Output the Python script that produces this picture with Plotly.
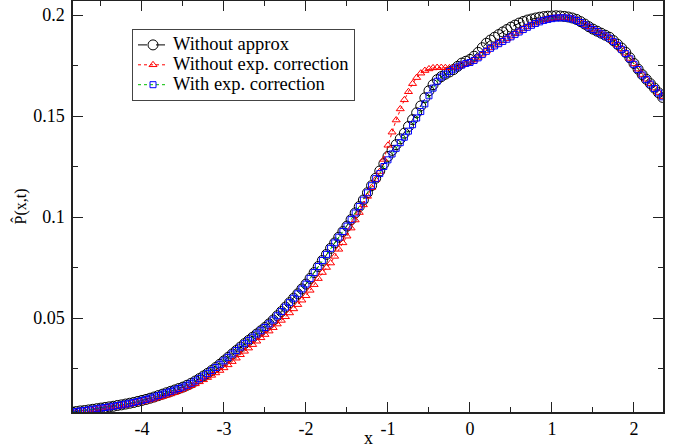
import plotly.graph_objects as go

x_vals = [
    -4.85, -4.80, -4.75, -4.70, -4.65, -4.60, -4.55, -4.50, -4.45, -4.40,
    -4.35, -4.30, -4.25, -4.20, -4.15, -4.10, -4.05, -4.00, -3.95, -3.90,
    -3.85, -3.80, -3.75, -3.70, -3.65, -3.60, -3.55, -3.50, -3.45, -3.40,
    -3.35, -3.30, -3.25, -3.20, -3.15, -3.10, -3.05, -3.00, -2.95, -2.90,
    -2.85, -2.80, -2.75, -2.70, -2.65, -2.60, -2.55, -2.50, -2.45, -2.40,
    -2.35, -2.30, -2.25, -2.20, -2.15, -2.10, -2.05, -2.00, -1.95, -1.90,
    -1.85, -1.80, -1.75, -1.70, -1.65, -1.60, -1.55, -1.50, -1.45, -1.40,
    -1.35, -1.30, -1.25, -1.20, -1.15, -1.10, -1.05, -1.00, -0.95, -0.90,
    -0.85, -0.80, -0.75, -0.70, -0.65, -0.60, -0.55, -0.50, -0.45, -0.40,
    -0.35, -0.30, -0.25, -0.20, -0.15, -0.10, -0.05, 0.00, 0.05, 0.10,
    0.15, 0.20, 0.25, 0.30, 0.35, 0.40, 0.45, 0.50, 0.55, 0.60,
    0.65, 0.70, 0.75, 0.80, 0.85, 0.90, 0.95, 1.00, 1.05, 1.10,
    1.15, 1.20, 1.25, 1.30, 1.35, 1.40, 1.45, 1.50, 1.55, 1.60,
    1.65, 1.70, 1.75, 1.80, 1.85, 1.90, 1.95, 2.00, 2.05, 2.10,
    2.15, 2.20, 2.25, 2.30, 2.35,
]

without_approx = [
    0.0035, 0.0037, 0.0040, 0.0042, 0.0045, 0.0048, 0.0051, 0.0054, 0.0057, 0.0060,
    0.0063, 0.0067, 0.0070, 0.0074, 0.0078, 0.0082, 0.0087, 0.0092, 0.0097, 0.0103,
    0.0109, 0.0116, 0.0123, 0.0130, 0.0137, 0.0144, 0.0151, 0.0158, 0.0167, 0.0177,
    0.0188, 0.0200, 0.0213, 0.0226, 0.0240, 0.0255, 0.0271, 0.0288, 0.0305, 0.0322,
    0.0339, 0.0356, 0.0373, 0.0389, 0.0405, 0.0421, 0.0437, 0.0453, 0.0471, 0.0490,
    0.0511, 0.0532, 0.0554, 0.0576, 0.0598, 0.0620, 0.0644, 0.0668, 0.0696, 0.0725,
    0.0755, 0.0785, 0.0815, 0.0845, 0.0872, 0.0900, 0.0928, 0.0955, 0.0987, 0.1020,
    0.1052, 0.1084, 0.1120, 0.1155, 0.1192, 0.1228, 0.1264, 0.1300, 0.1330, 0.1358,
    0.1387, 0.1415, 0.1448, 0.1482, 0.1516, 0.1550, 0.1590, 0.1625, 0.1655, 0.1680,
    0.1695, 0.1707, 0.1718, 0.1730, 0.1746, 0.1762, 0.1771, 0.1780, 0.1796, 0.1815,
    0.1838, 0.1860, 0.1876, 0.1890, 0.1903, 0.1916, 0.1928, 0.1940, 0.1950, 0.1960,
    0.1968, 0.1975, 0.1980, 0.1985, 0.1989, 0.1992, 0.1994, 0.1995, 0.1996, 0.1995,
    0.1993, 0.1990, 0.1985, 0.1978, 0.1967, 0.1955, 0.1942, 0.1930, 0.1920, 0.1910,
    0.1900, 0.1890, 0.1873, 0.1855, 0.1836, 0.1815, 0.1788, 0.1760, 0.1732, 0.1705,
    0.1682, 0.1660, 0.1638, 0.1615, 0.1592,
]

without_exp_corr = [
    0.0033, 0.0035, 0.0037, 0.0039, 0.0042, 0.0044, 0.0047, 0.0050, 0.0053, 0.0056,
    0.0059, 0.0062, 0.0065, 0.0068, 0.0072, 0.0076, 0.0080, 0.0084, 0.0089, 0.0094,
    0.0099, 0.0105, 0.0111, 0.0117, 0.0124, 0.0131, 0.0139, 0.0147, 0.0156, 0.0165,
    0.0174, 0.0184, 0.0194, 0.0205, 0.0216, 0.0228, 0.0240, 0.0253, 0.0268, 0.0284,
    0.0301, 0.0318, 0.0335, 0.0351, 0.0368, 0.0385, 0.0402, 0.0418, 0.0435, 0.0452,
    0.0470, 0.0488, 0.0506, 0.0525, 0.0545, 0.0566, 0.0588, 0.0610, 0.0637, 0.0665,
    0.0695, 0.0725, 0.0750, 0.0772, 0.0805, 0.0840, 0.0872, 0.0905, 0.0945, 0.0985,
    0.1022, 0.1060, 0.1102, 0.1145, 0.1185, 0.1225, 0.1285, 0.1355, 0.1420, 0.1480,
    0.1535, 0.1580, 0.1620, 0.1660, 0.1690, 0.1712, 0.1725, 0.1733, 0.1738, 0.1740,
    0.1740, 0.1739, 0.1738, 0.1739, 0.1743, 0.1752, 0.1760, 0.1767, 0.1777, 0.1790,
    0.1806, 0.1822, 0.1837, 0.1850, 0.1861, 0.1872, 0.1883, 0.1895, 0.1907, 0.1919,
    0.1931, 0.1941, 0.1951, 0.1960, 0.1968, 0.1975, 0.1980, 0.1984, 0.1987, 0.1988,
    0.1988, 0.1986, 0.1982, 0.1975, 0.1965, 0.1954, 0.1942, 0.1930, 0.1920, 0.1909,
    0.1898, 0.1887, 0.1870, 0.1852, 0.1832, 0.1811, 0.1785, 0.1758, 0.1732, 0.1705,
    0.1682, 0.1660, 0.1638, 0.1616, 0.1596,
]

with_exp_corr = [
    0.0035, 0.0037, 0.0040, 0.0042, 0.0045, 0.0048, 0.0051, 0.0054, 0.0057, 0.0060,
    0.0063, 0.0067, 0.0070, 0.0074, 0.0078, 0.0082, 0.0087, 0.0092, 0.0097, 0.0103,
    0.0109, 0.0116, 0.0123, 0.0130, 0.0137, 0.0144, 0.0151, 0.0158, 0.0167, 0.0177,
    0.0188, 0.0200, 0.0213, 0.0226, 0.0240, 0.0255, 0.0271, 0.0288, 0.0305, 0.0322,
    0.0339, 0.0356, 0.0373, 0.0389, 0.0405, 0.0421, 0.0437, 0.0453, 0.0471, 0.0490,
    0.0511, 0.0532, 0.0554, 0.0576, 0.0598, 0.0620, 0.0644, 0.0668, 0.0696, 0.0725,
    0.0755, 0.0785, 0.0815, 0.0845, 0.0872, 0.0900, 0.0928, 0.0955, 0.0987, 0.1020,
    0.1052, 0.1084, 0.1120, 0.1155, 0.1190, 0.1215, 0.1250, 0.1283, 0.1312, 0.1340,
    0.1368, 0.1395, 0.1425, 0.1457, 0.1490, 0.1522, 0.1560, 0.1600, 0.1638, 0.1672,
    0.1693, 0.1707, 0.1720, 0.1732, 0.1743, 0.1752, 0.1760, 0.1765, 0.1775, 0.1788,
    0.1804, 0.1820, 0.1835, 0.1847, 0.1858, 0.1869, 0.1880, 0.1892, 0.1904, 0.1916,
    0.1928, 0.1939, 0.1949, 0.1958, 0.1966, 0.1973, 0.1978, 0.1982, 0.1985, 0.1986,
    0.1986, 0.1984, 0.1980, 0.1973, 0.1963, 0.1952, 0.1940, 0.1928, 0.1918, 0.1907,
    0.1896, 0.1885, 0.1868, 0.1850, 0.1830, 0.1809, 0.1783, 0.1756, 0.1730, 0.1703,
    0.1680, 0.1658, 0.1636, 0.1614, 0.1595,
]

series_names = ["Without approx", "Without exp. correction", "With exp. correction"]
x_tick_vals = [-4, -3, -2, -1, 0, 1, 2]
x_tick_text = ["-4", "-3", "-2", "-1", "0", "1", "2"]
y_tick_vals = [0.05, 0.1, 0.15, 0.2]
y_tick_text = ["0.05", "0.1", "0.15", "0.2"]

FONT = "Liberation Serif, Times New Roman, serif"


def legend_label(text):
    return "<span style='font-size:18.5px'>" + text + "</span>"


fig = go.Figure()
fig.add_trace(go.Scatter(
    x=x_vals, y=without_approx, name=legend_label(series_names[0]), mode="lines+markers",
    line=dict(color="black", width=1, dash="dash"),
    marker=dict(symbol="circle-open", size=10, color="black", line=dict(width=1)),
))
fig.add_trace(go.Scatter(
    x=x_vals, y=without_exp_corr, name=legend_label(series_names[1]), mode="lines+markers",
    line=dict(color="red", width=1, dash="dot"),
    marker=dict(symbol="triangle-up-open", size=7, color="red", line=dict(width=1)),
))
fig.add_trace(go.Scatter(
    x=x_vals, y=with_exp_corr, name=legend_label(series_names[2]), mode="lines+markers",
    line=dict(color="rgb(0,190,0)", width=1, dash="dot"),
    marker=dict(symbol="square-open", size=6, color="blue", line=dict(width=1)),
))

axis_common = dict(
    showline=True, linecolor="#222", linewidth=1.5, mirror="allticks",
    ticks="inside", ticklen=10, tickwidth=1, tickcolor="#222",
    showgrid=False, zeroline=False, automargin=False,
    tickfont=dict(family=FONT, size=18, color="black"),
)

fig.update_xaxes(
    range=[-4.841, 2.354], tickvals=x_tick_vals, ticktext=x_tick_text,
    minor=dict(dtick=0.5, tick0=0, ticks="inside", ticklen=5, tickwidth=1, tickcolor="#222", showgrid=False),
    ticklabelstandoff=0,
    **axis_common,
)
fig.update_yaxes(
    range=[0.00347, 0.20693], tickvals=y_tick_vals, ticktext=y_tick_text,
    minor=dict(dtick=0.025, tick0=0, ticks="inside", ticklen=5, tickwidth=1, tickcolor="#222", showgrid=False),
    title=dict(text="P\u0302(x,t)", font=dict(family=FONT, size=16, color="black"), standoff=3),
    ticklabelstandoff=3,
    **axis_common,
)

fig.add_annotation(
    text="x", xref="paper", yref="paper", x=0.5, y=-0.063,
    xanchor="center", yanchor="middle", showarrow=False,
    font=dict(family=FONT, size=18, color="black"),
)

fig.update_layout(
    width=679, height=448,
    margin=dict(l=73, r=16, t=1, b=36),
    paper_bgcolor="white", plot_bgcolor="white",
    font=dict(family=FONT, color="black"),
    legend=dict(
        x=0.1, y=0.932, xanchor="left", yanchor="top",
        bgcolor="white", bordercolor="#444", borderwidth=1,
        font=dict(family=FONT, size=13, color="black"),
        tracegroupgap=0, itemwidth=30,
    ),
    showlegend=True,
)

fig.write_html(
    "out.html",
    config={"displayModeBar": False},
    post_script="document.body.style.margin='0';",
)
